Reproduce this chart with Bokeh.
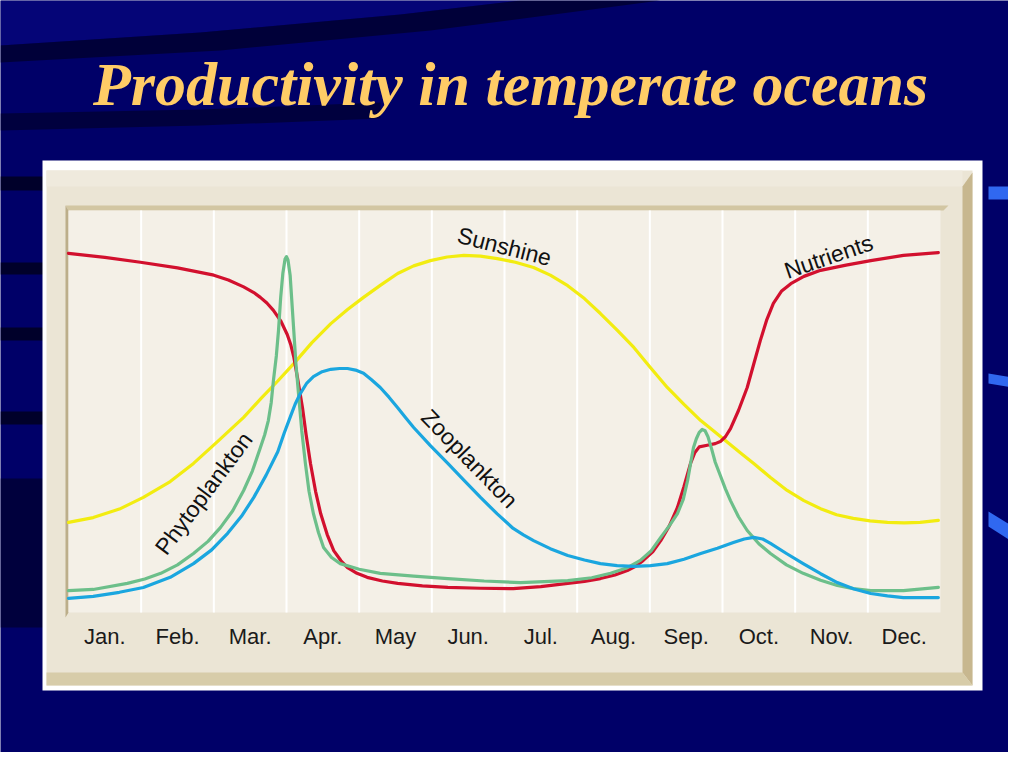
from bokeh.plotting import figure
from bokeh.models import Range1d
from bokeh.core.properties import value
from bokeh.embed import file_html
from bokeh.resources import INLINE

# ---------------- data ----------------
title = "Productivity in temperate oceans"
months = ["Jan.", "Feb.", "Mar.", "Apr.", "May", "Jun.",
          "Jul.", "Aug.", "Sep.", "Oct.", "Nov.", "Dec."]

# time in months (0 = start of Jan., 12 = end of Dec.), relative level 0-100
nutrients_t = [0, 0.5, 0.99, 1.5, 2.0, 2.2, 2.41, 2.55, 2.64, 2.73,
               2.82, 2.92, 3.01, 3.06, 3.10, 3.15, 3.22, 3.27, 3.33, 3.40,
               3.47, 3.56, 3.65, 3.75, 3.84, 3.97, 4.11, 4.32, 4.53, 4.87,
               5.22, 5.67, 6.12, 6.50, 6.87, 7.10, 7.32, 7.52, 7.69, 7.81,
               7.91, 8.04, 8.15, 8.27, 8.38, 8.47, 8.56, 8.62, 8.68, 8.79,
               8.90, 8.97, 9.04, 9.11, 9.22, 9.34, 9.43, 9.52, 9.61, 9.70,
               9.81, 9.94, 10.12, 10.35, 10.70, 11.04, 11.49, 11.97]
nutrients_v = [88.9, 87.9, 86.7, 85.3, 83.5, 82.3, 80.6, 79.2, 78.0, 76.6,
               74.8, 72.2, 68.8, 66.2, 63.3, 58.2, 50.7, 44.0, 36.9, 30.0,
               24.5, 19.3, 15.3, 12.8, 11.1, 9.7, 8.7, 7.8, 7.2, 6.6,
               6.2, 6.0, 5.9, 6.4, 7.2, 7.7, 8.4, 9.3, 10.4, 11.5,
               12.9, 15.0, 17.8, 21.5, 26.0, 31.2, 36.9, 39.6, 41.0, 41.4,
               41.8, 42.3, 43.5, 45.5, 50.0, 55.7, 61.5, 67.3, 72.5, 76.5,
               79.5, 81.4, 83.2, 84.7, 86.0, 87.1, 88.4, 89.1]

sunshine_t = [0, 0.34, 0.70, 1.03, 1.40, 1.72, 2.05, 2.41, 2.65, 2.88,
              3.10, 3.35, 3.61, 3.84, 4.06, 4.30, 4.53, 4.75, 4.98, 5.21,
              5.44, 5.67, 5.90, 6.15, 6.40, 6.63, 6.87, 7.10, 7.32, 7.55,
              7.78, 8.01, 8.24, 8.47, 8.70, 8.90, 9.11, 9.27, 9.43, 9.66,
              9.89, 10.12, 10.35, 10.57, 10.80, 11.03, 11.27, 11.50, 11.72, 11.97]
sunshine_v = [22.3, 23.5, 25.6, 28.5, 32.4, 36.9, 42.3, 48.3, 53.0, 57.3,
              61.6, 66.8, 71.5, 75.0, 78.0, 81.1, 83.9, 85.8, 87.1, 88.0,
              88.4, 88.2, 87.6, 86.7, 85.4, 83.5, 80.9, 77.7, 74.0, 69.9,
              65.6, 60.6, 55.7, 51.5, 47.5, 44.6, 41.5, 39.2, 36.9, 33.4,
              30.2, 27.7, 25.7, 24.2, 23.3, 22.7, 22.3, 22.2, 22.3, 22.8]

phyto_t = [0, 0.34, 0.81, 1.05, 1.27, 1.50, 1.72, 1.92, 2.09, 2.26,
           2.41, 2.53, 2.64, 2.70, 2.75, 2.79, 2.82, 2.86, 2.89, 2.92,
           2.95, 2.98, 3.00, 3.02, 3.05, 3.07, 3.10, 3.13, 3.17, 3.21,
           3.26, 3.31, 3.37, 3.44, 3.51, 3.62, 3.74, 4.00, 4.29, 4.75,
           5.22, 5.72, 6.22, 6.87, 7.20, 7.46, 7.68, 7.87, 8.02, 8.15,
           8.27, 8.38, 8.46, 8.52, 8.56, 8.60, 8.64, 8.68, 8.72, 8.76,
           8.80, 8.85, 8.90, 8.97, 9.04, 9.11, 9.22, 9.34, 9.50, 9.66,
           9.88, 10.11, 10.35, 10.58, 10.80, 11.04, 11.49, 11.97]
phyto_v = [5.4, 5.7, 7.2, 8.3, 9.7, 11.8, 14.6, 17.6, 21.0, 25.2,
           30.2, 35.0, 40.8, 44.0, 47.5, 52.0, 57.4, 63.5, 69.8, 78.0,
           84.0, 87.5, 88.1, 87.3, 83.5, 78.0, 69.8, 61.5, 53.2, 45.0,
           36.9, 30.0, 24.5, 19.8, 16.1, 13.6, 12.1, 10.7, 9.7, 9.0,
           8.4, 7.8, 7.4, 7.9, 8.6, 9.7, 11.0, 12.9, 15.3, 18.6,
           21.5, 24.5, 28.0, 32.7, 36.8, 40.8, 43.0, 44.6, 45.3, 45.0,
           43.5, 40.5, 37.2, 33.9, 30.6, 27.7, 23.7, 20.3, 17.0, 14.6,
           11.8, 9.7, 8.0, 6.7, 5.9, 5.4, 5.4, 6.2]

zoo_t = [0, 0.34, 0.70, 1.03, 1.40, 1.72, 1.97, 2.19, 2.38, 2.55,
         2.72, 2.88, 2.97, 3.06, 3.12, 3.19, 3.28, 3.37, 3.49, 3.61,
         3.73, 3.84, 3.95, 4.06, 4.17, 4.29, 4.41, 4.53, 4.64, 4.75,
         4.98, 5.22, 5.45, 5.67, 5.90, 6.12, 6.26, 6.40, 6.63, 6.87,
         7.10, 7.32, 7.55, 7.78, 8.01, 8.24, 8.47, 8.70, 8.93, 9.15,
         9.30, 9.43, 9.55, 9.66, 9.88, 10.11, 10.35, 10.58, 10.81, 11.04,
         11.27, 11.49, 11.97]
zoo_v = [3.5, 4.0, 5.0, 6.2, 8.7, 12.1, 15.5, 19.6, 23.8, 28.5,
         34.0, 39.8, 44.5, 48.8, 51.6, 54.2, 56.8, 58.4, 59.6, 60.2,
         60.4, 60.4, 60.0, 59.2, 57.6, 55.7, 53.3, 50.7, 48.2, 45.8,
         41.3, 36.9, 32.6, 28.5, 24.4, 20.8, 19.2, 17.8, 15.8, 14.1,
         13.0, 12.1, 11.6, 11.4, 11.6, 12.1, 13.2, 14.6, 15.9, 17.3,
         18.2, 18.6, 18.2, 17.1, 14.6, 12.1, 9.6, 7.4, 5.8, 4.7,
         4.1, 3.7, 3.7]

curve_names = ["Sunshine", "Nutrients", "Phytoplankton", "Zooplankton"]
name_x = [6.0, 10.46, 1.86, 5.52]
name_y = [90.6, 88.1, 29.5, 38.1]
name_angle = [-0.25, 0.33, 0.93, -0.80]

# ---------------- layout helpers (page pixel -> data units) ----------------
def X(px):
    return (px - 68) / 72.667


def Y(py):
    return (612 - py) / 4.04


W, H = 1008, 752
BG = "#000068"
p = figure(width=W, height=H,
           x_range=Range1d(X(0), X(W)), y_range=Range1d(Y(H), Y(0)),
           x_axis_location=None, y_axis_location=None, toolbar_location=None,
           output_backend="svg", min_border=0, outline_line_color=None,
           background_fill_color=BG, border_fill_color=BG)
p.xgrid.visible = False
p.ygrid.visible = False


def rect(x0, y0, x1, y1, color, alpha=1.0):
    p.quad(left=X(x0), right=X(x1), top=Y(y0), bottom=Y(y1),
           fill_color=color, fill_alpha=alpha, line_color=None)


def poly(pts, color, alpha=1.0):
    p.patch([X(a) for a, b in pts], [Y(b) for a, b in pts],
            fill_color=color, fill_alpha=alpha, line_color=None)


# background decoration
poly([(0, 0), (520, 0), (400, 14), (200, 32), (0, 45)], "#06067a", 0.8)
poly([(0, 45), (200, 32), (400, 14), (520, 0), (660, 0), (430, 30),
      (220, 50), (0, 62)], "#000034", 0.9)
poly([(0, 113), (200, 109), (380, 102), (380, 118), (200, 125), (0, 130)],
     "#000030", 0.75)
for a, b in [(176, 190), (262, 274), (327, 340), (411, 424)]:
    rect(0, a, 50, b, "#000024", 0.9)
rect(0, 478, 50, 627, "#000032", 0.8)
poly([(988, 186), (1024, 186), (1024, 199), (988, 199)], "#3068f0")
poly([(988, 373), (1024, 379), (1024, 389), (988, 383)], "#3068f0")
poly([(988, 511), (1024, 533), (1024, 549), (988, 526)], "#3068f0")

# panel
rect(42, 160, 982, 690, "#ffffff")
rect(46, 170, 972, 685, "#ebe5d5")
rect(46, 170, 962, 186, "#efeadd")
poly([(962, 186), (972, 172), (972, 685), (962, 672)], "#c7b78f")
poly([(46, 672), (962, 672), (972, 685), (46, 685)], "#d7cca9")
poly([(65, 205), (948, 205), (943, 210), (68, 210)], "#d2c6a2")
poly([(65, 205), (68, 210), (68, 612), (65, 617)], "#bcae8a")
rect(68, 210, 940, 612, "#f4f0e7")

# month boundaries (white gridlines)
bounds = list(range(1, len(months)))
p.segment(x0=bounds, y0=[0] * len(bounds), x1=bounds, y1=[Y(210)] * len(bounds),
          line_color="#ffffff", line_width=2)

# curves
p.line(sunshine_t, sunshine_v, line_color="#f2ec10", line_width=3.2,
       line_join="round", line_cap="round")
p.line(nutrients_t, nutrients_v, line_color="#d2102e", line_width=3.2,
       line_join="round", line_cap="round")
p.line(phyto_t, phyto_v, line_color="#6cbf8a", line_width=3.2,
       line_join="round", line_cap="round")
p.line(zoo_t, zoo_v, line_color="#1aa6df", line_width=3.2,
       line_join="round", line_cap="round")

# curve names
p.text(x=name_x, y=name_y, text=curve_names, angle=name_angle,
       text_font=value("Liberation Sans"), text_font_size="23px",
       text_color="#111111", text_align="center", text_baseline="middle")

# month labels
p.text(x=[i + 0.5 for i in range(len(months))], y=[Y(636)] * len(months),
       text=months, text_font=value("Liberation Sans"),
       text_font_size="22px", text_color="#1a1a1a",
       text_align="center", text_baseline="middle")

# title
p.text(x=[X(510)], y=[Y(83)], text=[title],
       text_font=value("Liberation Serif"), text_font_style="bold italic",
       text_font_size="62px", text_color="#ffcc66",
       text_align="center", text_baseline="middle")

open("out.html", "w").write(file_html(p, INLINE))
